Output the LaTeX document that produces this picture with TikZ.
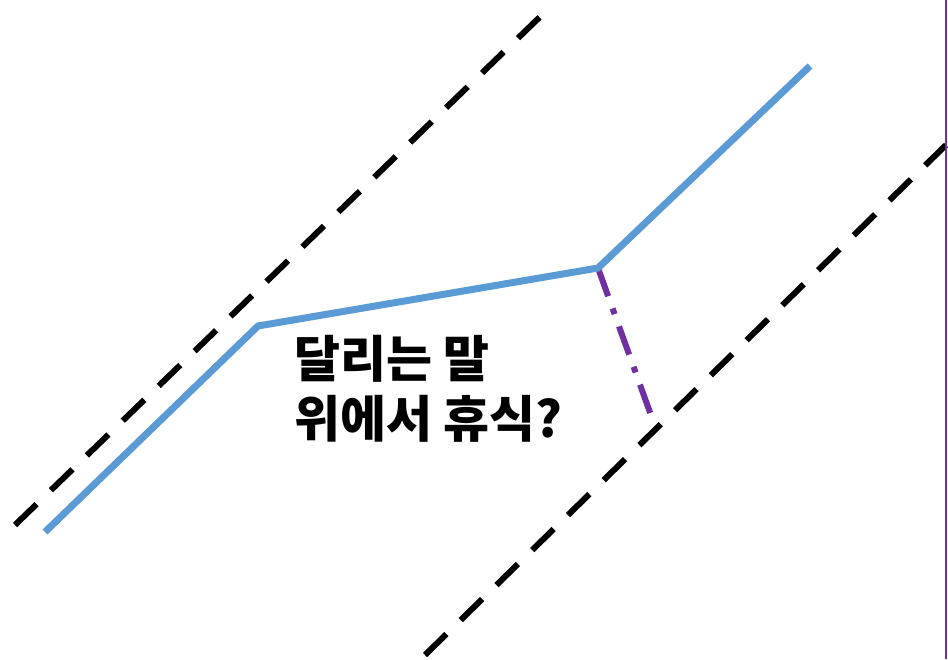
\documentclass[tikz,border=0pt]{standalone}
\usepackage{fontspec}
\newfontfamily\krfont{Noto Sans CJK KR}[BoldFont={Noto Sans CJK KR Black}]
\usetikzlibrary{positioning}
\definecolor{horseblue}{RGB}{91,155,213}
\definecolor{restpurple}{RGB}{112,48,160}
\tikzstyle{rail} = [draw=black, line width=6pt, dash pattern=on 30pt off 20pt]
\tikzstyle{ride} = [draw=horseblue, line width=7pt, line join=miter]
\tikzstyle{gap} = [draw=restpurple, line width=6pt,
    dash pattern=on 30pt off 13pt on 6pt off 13pt]
\tikzstyle{lbl} = [font=\krfont\bfseries\fontsize{50}{60}\selectfont,
    align=left, inner sep=0pt, anchor=north west, text=black]

\begin{document}
\begin{tikzpicture}[x=1pt,y=-1pt]
  \useasboundingbox (0,0) rectangle (948,659);

  \coordinate (r1a) at (15,525);
  \coordinate (r1b) at (545,12);
  \coordinate (r2a) at (425,655);
  \coordinate (r2b) at (946,145);

  \coordinate (p1) at (45,532);
  \coordinate (p2) at (258,326);
  \coordinate (p3) at (598,268);
  \coordinate (p4) at (810,66);
  \coordinate (q)  at (652,418);

  \coordinate (et) at (946,0);
  \coordinate (eb) at (946,659);

  \path[rail] (r1a) -- (r1b);
  \path[rail] (r2a) -- (r2b);
  \path[gap] (p3) -- (q);
  \path[ride] (p1) -- (p2) -- (p3) -- (p4);
  \draw[restpurple, line width=1.2pt] (et) -- (eb);

  \node[lbl] (msg) at (294,335) {달리는 말\\위에서 휴식?};
\end{tikzpicture}
\end{document}
